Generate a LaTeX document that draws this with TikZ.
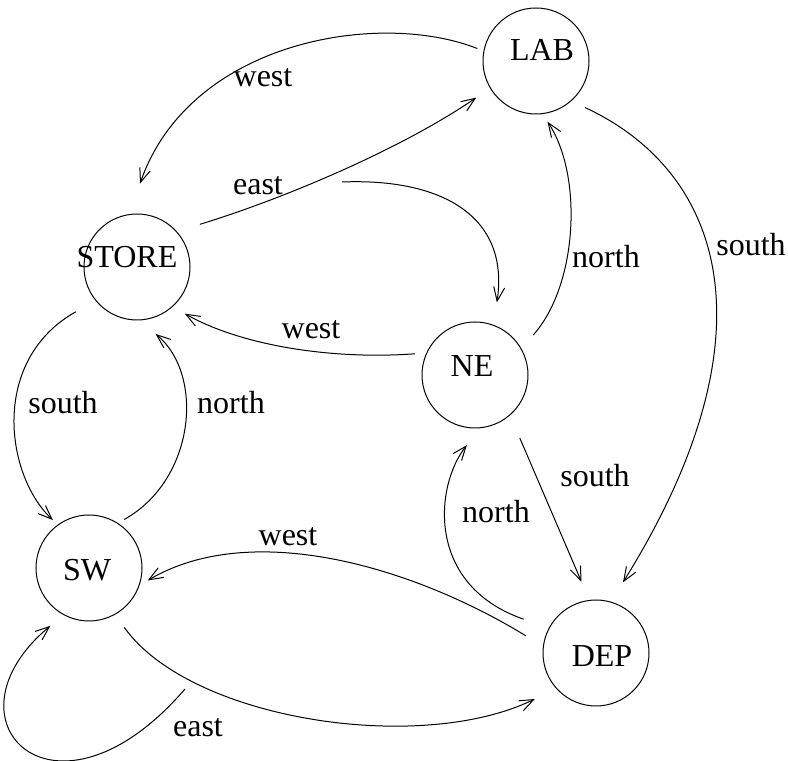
\documentclass[tikz,border=0pt]{standalone}
\usepackage{fontspec}
\setmainfont{Liberation Serif}
\usetikzlibrary{arrows.meta}

\begin{document}
\begin{tikzpicture}[x=0.5pt,y=0.5pt,line width=0.5pt,>={Straight Barb[length=7pt,width=5.5pt]},font=\fontsize{16}{19}\selectfont]
	\tikzstyle{state}=[circle,draw,minimum size=53pt,inner sep=0pt,outer sep=3.5pt]
	\tikzstyle{lbl}=[inner sep=0pt]
	\useasboundingbox (0,0) rectangle (788,761);
		\node[state,label={[xshift=3pt,yshift=5.5pt]center:LAB}] (lab) at (536,700) {};
		\node[state,label={[xshift=-5pt,yshift=5pt]center:STORE}] (store) at (137,494) {};
		\node[state,label={[xshift=-1.5pt,yshift=4.5pt]center:NE}] (ne) at (475,386) {};
		\node[state,label={[xshift=-1pt,yshift=-1pt]center:SW}] (sw) at (89,193) {};
		\node[state,label={[xshift=3pt,yshift=-1.5pt]center:DEP}] (dep) at (596,108) {};
		\coordinate (storeeast) at (342,579);
		\coordinate (swloop) at (185,72);
			\draw[->,shorten >=12.5pt] (lab.168) .. controls (380,751) and (190,721) .. (store.95) node[lbl] at (263,683) {west};
			\draw[->,shorten <=8.5pt,shorten >=5pt] (store.39) .. controls (280,561) and (400,611) .. (lab.211) node[lbl] at (258,575) {east};
			\draw[->,shorten >=8pt] (storeeast) .. controls (440,583) and (510,546) .. (ne.71);
			\draw[->,shorten <=2pt,shorten >=3.5pt] (ne.159) .. controls (330,401) and (240,416) .. (store.314) node[lbl] at (311,431) {west};
			\draw[->,shorten <=5.5pt,shorten >=1pt] (ne.32) .. controls (578,476) and (583,586) .. (lab.280) node[lbl] at (606,504) {north};
			\draw[->,shorten <=4pt,shorten >=8pt] (lab.314) .. controls (720,591) and (780,431) .. (dep.72) node[lbl] at (751,516) {south};
			\draw[->,shorten <=9pt,shorten >=6.5pt] (ne.309) -- (dep.99.5) node[lbl] at (595,285) {south};
			\draw[->,shorten <=10pt,shorten >=6.5pt] (dep.153) .. controls (425,176) and (435,276) .. (ne.270) node[lbl] at (496,249) {north};
			\draw[->,shorten <=8pt] (store.218) .. controls (-10,401) and (5,286) .. (sw.127) node[lbl] at (63,358) {south};
			\draw[->,shorten >=6pt] (sw.54) .. controls (195,281) and (205,386) .. (store.279) node[lbl] at (231,358) {north};
			\draw[->,shorten <=6.5pt] (dep.170.5) .. controls (410,196) and (250,241) .. (sw.348) node[lbl] at (288,224) {west};
			\draw[->,shorten <=4.5pt,shorten >=8.5pt] (sw.300) .. controls (190,41) and (420,6) .. (dep.220);
			\draw[->,shorten >=5pt] (swloop) .. controls (55,-79) and (-64,40) .. (sw.239) node[lbl] at (198,33) {east};
\end{tikzpicture}
\end{document}
